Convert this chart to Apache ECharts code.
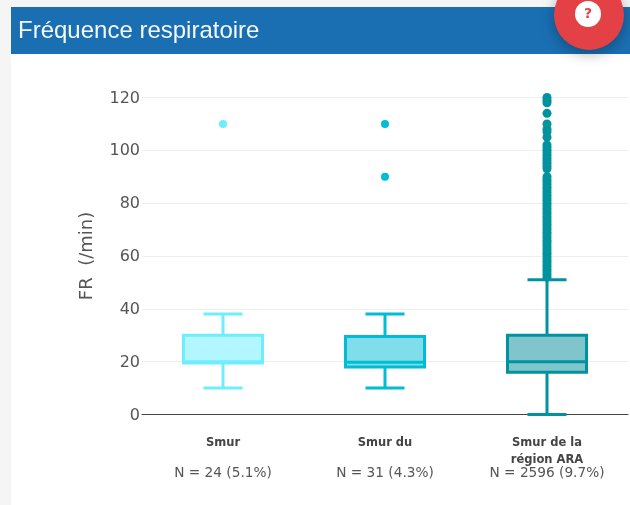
<!DOCTYPE html>
<html><head><meta charset="utf-8">
<style>html,body{margin:0;padding:0;background:#f5f5f5}#c{width:630px;height:505px}</style>
<script src="https://cdn.jsdelivr.net/npm/echarts@6/dist/echarts.min.js"></script>
</head><body><div id="c"></div>
<script>
const chartTitle = 'Fréquence respiratoire';
const yName = 'FR  (/min)';
const categories = ['Smur', 'Smur du', 'Smur de la\nrégion ARA'];
const counts = ['N = 24 (5.1%)', 'N = 31 (4.3%)', 'N = 2596 (9.7%)'];
const lows = [10, 10, 0];
const q1s = [19.5, 18, 16];
const medians = [20, 19.8, 20];
const q3s = [30, 29.5, 30];
const highs = [38, 38, 51];
const outliersSmur = [110];
const outliersDu = [90, 110];
const outliersAra = [52,53,54,55,56,57,58,59,60,61,62,63,64,65,66,67,68,69,70,71,72,73,74,75,76,77,78,79,80,81,82,83,84,85,86,87,88,89,90,93,94,95,96,97,98,99,100,101,102,105,107,108,110,114,118,119,120];
const strokes = ['#6eeefc', '#00bcd4', '#00929f'];
const fills = ['#b2f6ff', '#80deea', '#80c5cc'];
const dotSizes = [8, 8, 9];

const chart = echarts.init(document.getElementById('c'), null, {renderer: 'canvas'});
const boxData = categories.map((c, i) => [i, lows[i], q1s[i], medians[i], q3s[i], highs[i]]);
const outlierSeries = [outliersSmur, outliersDu, outliersAra].map((vals, i) => ({
  type: 'scatter', symbolSize: dotSizes[i], z: 4,
  itemStyle: {color: strokes[i], opacity: 1},
  data: vals.map(v => [i, v])
}));
chart.setOption({
  animation: false,
  backgroundColor: '#f5f5f5',
  grid: {left: 142, right: 2, top: 97.5, height: 317, containLabel: false},
  xAxis: {
    type: 'category', data: categories,
    axisTick: {show: false},
    axisLine: {lineStyle: {color: '#444', width: 1}},
    axisLabel: {
      interval: 0, margin: 20, color: '#444',
      formatter: (v, i) => {
        const lines = v.split('\n');
        const a = lines[0], b = lines[1] || ' ';
        return `{c|${a}}\n{c|${b}}\n{n|${counts[i]}}`;
      },
      rich: {
        c: {fontFamily: 'DejaVu Sans', fontWeight: 'bold', fontSize: 11.5, color: '#444', lineHeight: 17, align: 'center'},
        n: {fontFamily: 'DejaVu Sans', fontSize: 13.7, color: '#555', lineHeight: 9, align: 'center'}
      }
    }
  },
  yAxis: {
    type: 'value', min: 0, max: 120, interval: 20,
    name: yName, nameLocation: 'middle', nameGap: 46,
    nameTextStyle: {fontFamily: 'DejaVu Sans', fontSize: 18, color: '#555'},
    axisLine: {show: false}, axisTick: {show: false},
    axisLabel: {
      margin: 2,
      formatter: v => `{v|${v}}`,
      rich: {v: {fontFamily: 'DejaVu Sans', fontSize: 16, color: '#555', padding: [2, 0, 0, 0]}}
    },
    splitLine: {lineStyle: {color: '#eeeeee', width: 1}}
  },
  series: [{
    type: 'custom', z: 3, clip: false,
    encode: {x: 0, y: [1, 2, 3, 4, 5]},
    data: boxData,
    renderItem: (params, api) => {
      const i = api.value(0);
      const pt = k => api.coord([i, api.value(k)]);
      const x = pt(1)[0], yLow = pt(1)[1], yQ1 = pt(2)[1], yMed = pt(3)[1], yQ3 = pt(4)[1], yHigh = pt(5)[1];
      const line = {stroke: strokes[i], lineWidth: 3, fill: null};
      const seg = (x1, y1, x2, y2) => ({type: 'line', shape: {x1, y1, x2, y2}, style: line});
      return {type: 'group', children: [
        {type: 'rect', shape: {x: x - 39.5, y: yQ3, width: 79, height: yQ1 - yQ3}, style: {fill: fills[i], stroke: strokes[i], lineWidth: 3}},
        seg(x - 39.5, yMed, x + 39.5, yMed),
        seg(x, yQ3, x, yHigh), seg(x, yQ1, x, yLow),
        seg(x - 19.5, yHigh, x + 19.5, yHigh), seg(x - 19.5, yLow, x + 19.5, yLow)
      ]};
    }
  }].concat(outlierSeries),
  graphic: [
    {type: 'rect', z: -10, shape: {x: 11, y: 7, width: 619, height: 498}, style: {fill: '#fff'}},
    {type: 'rect', z: 10, shape: {x: 11, y: 7, width: 619, height: 47}, style: {fill: '#1a6fb3'}},
    {type: 'text', z: 11, x: 18, y: 31, style: {text: chartTitle, fontFamily: 'Liberation Sans', fontSize: 24, fill: '#f4f8fb', verticalAlign: 'middle'}},
    {type: 'circle', z: 12, shape: {cx: 589, cy: 15, r: 35}, style: {fill: '#e44146', shadowBlur: 14, shadowOffsetY: 4, shadowColor: 'rgba(0,0,0,0.3)'}},
    {type: 'circle', z: 13, shape: {cx: 588, cy: 14, r: 13}, style: {fill: '#fff'}},
    {type: 'text', z: 14, x: 588, y: 14, style: {text: '?', fontFamily: 'DejaVu Sans', fontWeight: 'bold', fontSize: 14, fill: '#e44146', align: 'center', verticalAlign: 'middle'}}
  ]
});
</script></body></html>
